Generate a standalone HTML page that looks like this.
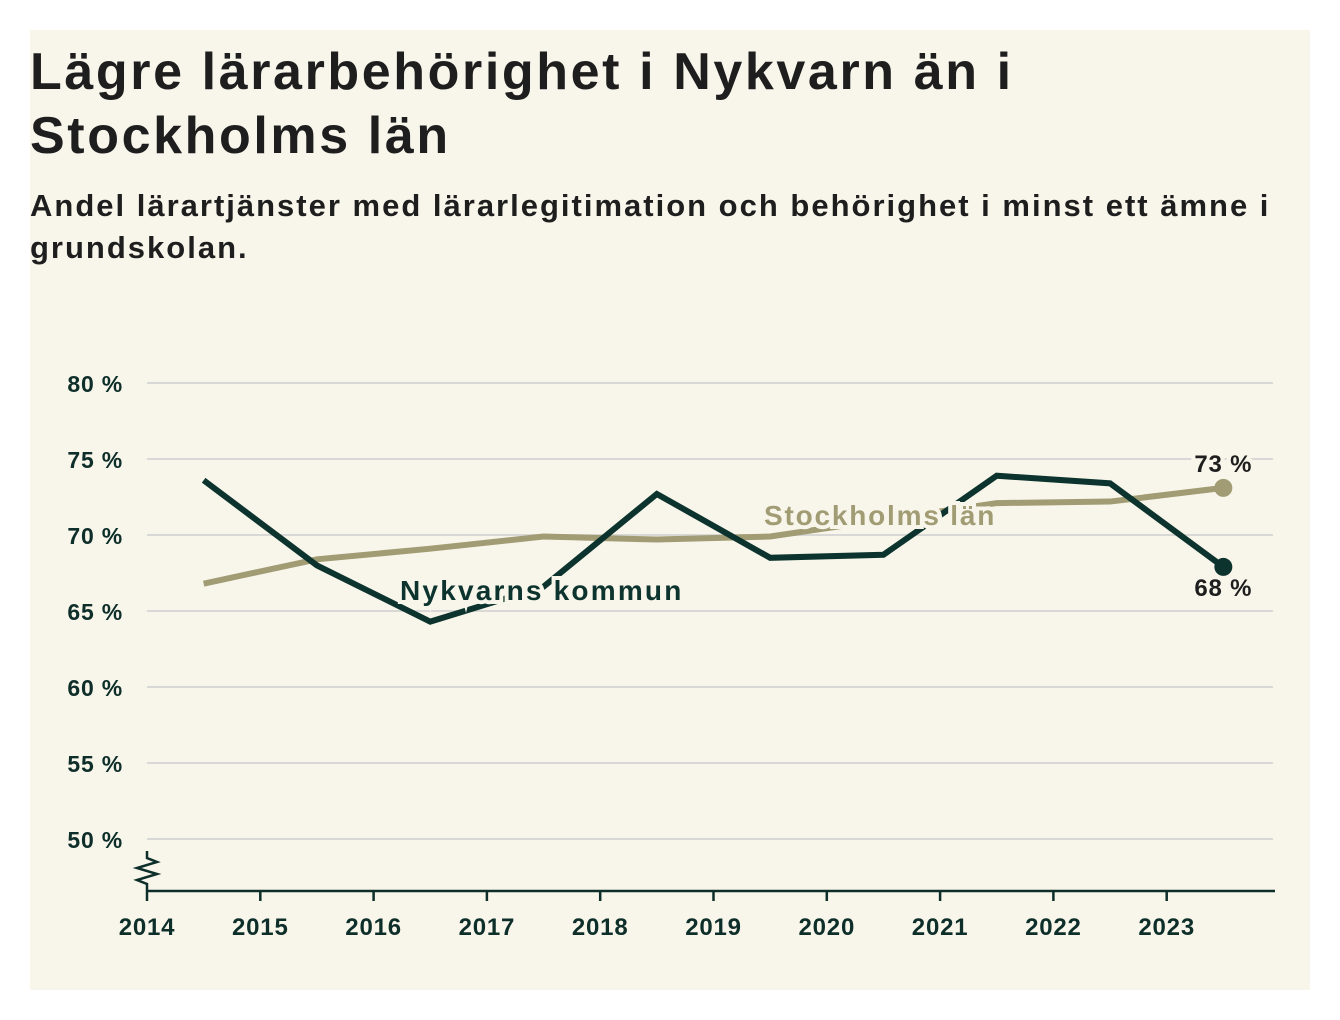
<!DOCTYPE html>
<html><head><meta charset="utf-8"><style>
body{margin:0;width:1340px;height:1020px;background:#fff;font-family:"Liberation Sans",sans-serif;overflow:hidden}
#panel{position:absolute;left:30px;top:30px;width:1280px;height:960px;background:#f8f6eb}
h1{position:absolute;left:0;top:10px;margin:0;font-size:52px;line-height:64px;font-weight:bold;color:#1e1e1e;letter-spacing:2.6px;white-space:nowrap}
h2{position:absolute;left:0;top:155px;margin:0;font-size:31px;line-height:42px;font-weight:bold;color:#1e1e1e;width:1275px;letter-spacing:2.0px}
svg{position:absolute;left:0;top:0}
</style></head><body>
<div id="panel"></div>
<div style="position:absolute;left:30px;top:30px;width:1280px">
<h1>Lägre lärarbehörighet i Nykvarn än i<br>Stockholms län</h1>
<h2>Andel lärartjänster med lärarlegitimation och behörighet i minst ett ämne i grundskolan.</h2>
</div>
<svg id="chart" width="1340" height="1020"></svg>
<script>
const years=[2014.5,2015.5,2016.5,2017.5,2018.5,2019.5,2020.5,2021.5,2022.5,2023.5];
const nykvarn=[73.6,68.0,64.3,66.6,72.7,68.5,68.7,73.9,73.4,67.9];
const stockholm=[66.8,68.4,69.1,69.9,69.7,69.9,71.0,72.1,72.2,73.1];
const yTicks=[50,55,60,65,70,75,80];
const xTicks=[2014,2015,2016,2017,2018,2019,2020,2021,2022,2023];
const NS="http://www.w3.org/2000/svg";
const svg=document.getElementById('chart');
const x=v=>147+(v-2014)*113.3;
const y=v=>383+(80-v)*15.2;
function mk(t,a,p){const e=document.createElementNS(NS,t);for(const k in a)e.setAttribute(k,a[k]);(p||svg).appendChild(e);return e;}
yTicks.forEach(t=>{
 const g=mk('line',{x1:147,x2:1273,y1:y(t),y2:y(t),stroke:'#d8d8d6','stroke-width':2});
 
 
 const l=mk('text',{x:123,y:y(t)+9,'text-anchor':'end','font-size':23,'font-weight':'bold',fill:'#0e2e2a','letter-spacing':0.8});
 l.textContent=t+' %';
 
 
});
const ax=mk('line',{x1:147,x2:1275,y1:891,y2:891,stroke:'#0e2e2a','stroke-width':2.5});


const br=mk('polyline',{points:'147,851 147,858 157,862 137,868 157,874 137,880 147,884 147,891',fill:'none',stroke:'#0e2e2a','stroke-width':2.5});


xTicks.forEach(t=>{
 const tk=mk('line',{x1:x(t),x2:x(t),y1:891,y2:901,stroke:'#0e2e2a','stroke-width':2.5});
 
 
 const l=mk('text',{x:x(t),y:935,'text-anchor':'middle','font-size':24,'font-weight':'bold',fill:'#0e2e2a','letter-spacing':0.8});
 l.textContent=t;
 
 
});
function series(vals,color,name){
 const p=mk('polyline',{points:vals.map((v,i)=>x(years[i])+','+y(v)).join(' '),fill:'none',stroke:color,'stroke-width':6,'stroke-linejoin':'miter'});
 
 
 const n=vals.length-1;
 const c=mk('circle',{cx:x(years[n]),cy:y(vals[n]),r:9,fill:color});
 
 
}
series(stockholm,'#a19c74','stockholm');
series(nykvarn,'#0c332d','nykvarn');
function label(txt,xx,yy,color,size,name,anchor,ls){
 const t=mk('text',{x:xx,y:yy,'font-size':size,'font-weight':'bold',fill:color,stroke:'#f8f6eb','stroke-width':8,'paint-order':'stroke','text-anchor':anchor||'start','letter-spacing':ls||0});
 t.textContent=txt;
 
 
}
label('Stockholms län',764,525,'#a19c74',28,'stockholm-series-label','start',1.8);
label('Nykvarns kommun',400,600,'#0c332d',28,'nykvarn-series-label','start',2.2);
label(Math.round(stockholm[9])+' %',x(years[9]),472,'#1e1e1e',24,'stockholm-end-value','middle',0.8);
label(Math.round(nykvarn[9])+' %',x(years[9]),596,'#1e1e1e',24,'nykvarn-end-value','middle',0.8);
</script>
</body></html>
